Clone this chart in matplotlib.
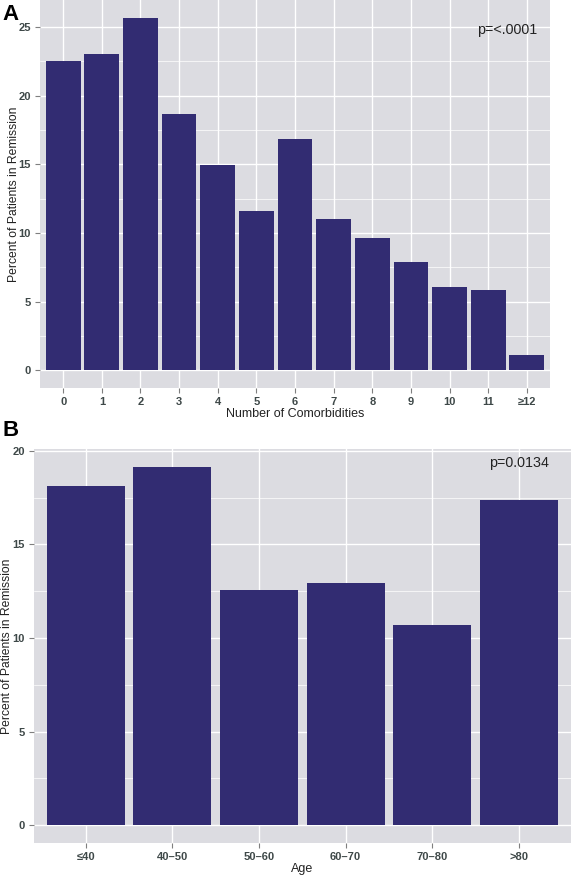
import matplotlib
matplotlib.use("Agg")
import matplotlib.pyplot as plt
import numpy as np

plt.rcParams['font.family'] = ['Liberation Sans', 'DejaVu Sans']

# Panel A data
comorb_labels = ['0', '1', '2', '3', '4', '5', '6', '7', '8', '9', '10', '11', '≥12']
comorb_values = [22.5, 23.04, 25.67, 18.67, 14.98, 11.63, 16.87, 11.05, 9.66, 7.9, 6.1, 5.88, 1.14]
comorb_p = 'p=<.0001'

# Panel B data
age_labels = ['≤40', '40–50', '50–60', '60–70', '70–80', '>80']
age_values = [18.13, 19.14, 12.55, 12.93, 10.68, 17.36]
age_p = 'p=0.0134'

W, H = 576, 876
fig = plt.figure(figsize=(W / 100, H / 100), dpi=100)

BAR = '#322C72'
BG = '#DCDCE1'
TICKC = '#3E4848'


def px_axes(left, top, right, bottom):
    return fig.add_axes([left / W, (H - bottom) / H, (right - left) / W, (bottom - top) / H])


def style(ax, labels, values, yticks, xlabel, ptext, pxy, ylab_x):
    n = len(labels)
    x = np.arange(n)
    ax.set_facecolor(BG)
    vmax = max(values)
    ax.set_ylim(-0.05 * vmax, vmax * 1.05)
    ax.set_xlim(-0.6, n - 1 + 0.6)
    ax.set_yticks(yticks)
    ax.set_yticks(np.arange(2.5, vmax * 1.05, 5), minor=True)
    ax.set_xticks(x)
    ax.set_xticklabels(labels)
    ax.grid(True, which='major', color='white', linewidth=1.0)
    ax.grid(True, which='minor', axis='y', color='white', linewidth=0.5)
    ax.set_axisbelow(True)
    ax.bar(x, values, width=0.9, color=BAR, zorder=3)
    for s in ax.spines.values():
        s.set_visible(False)
    ax.tick_params(which='major', length=3.5, color='#7F7F7F', width=0.8,
                   labelcolor=TICKC, labelsize=8, pad=3)
    ax.tick_params(which='minor', length=0)
    for t in ax.get_xticklabels() + ax.get_yticklabels():
        t.set_fontweight('bold')
    ax.set_xlabel(xlabel, fontsize=9, color='#222222', labelpad=1)
    ax.set_ylabel('Percent of Patients in Remission', fontsize=8.7, color='#222222')
    ax.yaxis.set_label_coords(ylab_x, 0.5)
    ax.text(pxy[0], pxy[1], ptext, fontsize=10.3, color='#222222', ha='center', va='center')


axA = px_axes(40, 0, 550, 388)
style(axA, comorb_labels, comorb_values, [0, 5, 10, 15, 20, 25], 'Number of Comorbidities',
      comorb_p, (11.5, 24.8), (20 - 40) / 510)

axB = px_axes(33.7, 449, 571, 843)
style(axB, age_labels, age_values, [0, 5, 10, 15, 20], 'Age',
      age_p, (5.0, 19.34), (13.5 - 33.7) / (571 - 33.7))

fig.text(2 / W, (H - 15) / H, 'A', fontsize=16, fontweight='bold', va='center', ha='left')
fig.text(2 / W, (H - 430) / H, 'B', fontsize=16, fontweight='bold', va='center', ha='left')

fig.savefig('out.png', dpi=100, facecolor='white')
